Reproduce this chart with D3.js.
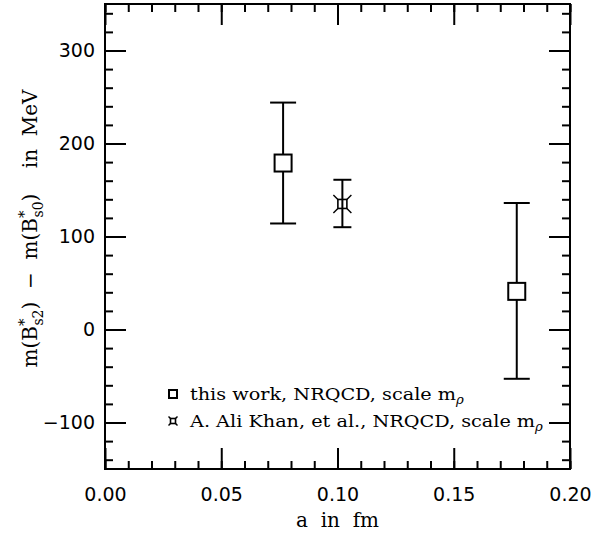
<!DOCTYPE html>
<html>
<head>
<meta charset="utf-8">
<script src="https://cdn.jsdelivr.net/npm/d3@7"></script>
<style>
  html, body { margin: 0; padding: 0; background: #fff; }
  svg { display: block; }
  .tick text { font-family: "DejaVu Sans", sans-serif; font-size: 19px; fill: #000; }
  .lbl { font-family: "DejaVu Serif", serif; fill: #000; }
</style>
</head>
<body>
<svg id="chart" width="610" height="535"></svg>
<script>
// Mass splitting m(B*_s2) - m(B*_s0) versus lattice spacing
const thisWorkA    = [0.0766, 0.1771];
const thisWorkVal  = [179, 41];
const thisWorkHigh = [244, 136];
const thisWorkLow  = [114, -53];

const aliKhanA    = [0.1021];
const aliKhanVal  = [135];
const aliKhanHigh = [161];
const aliKhanLow  = [110];

const xMajorTicks = [0.00, 0.05, 0.10, 0.15, 0.20];
const yMajorTicks = [-100, 0, 100, 200, 300];
const xDomain = [0, 0.2];
const yDomain = [-150, 350];

const svg = d3.select("#chart");
const margin = { left: 105, right: 40, top: 4, bottom: 66 };
const W = 610, H = 535;
const x = d3.scaleLinear().domain(xDomain).range([margin.left, W - margin.right]);
const y = d3.scaleLinear().domain(yDomain).range([H - margin.bottom, margin.top]);

const x0 = x.range()[0], x1 = x.range()[1];
const y0 = y.range()[0], y1 = y.range()[1];

const xMinor = d3.range(0, 0.2001, 0.01).map(v => +v.toFixed(2));
const yMinor = d3.range(-140, 341, 20);
const MAJ = 21, MIN = 8;

function styleAxis(g) {
  g.select(".domain").remove();
  g.selectAll(".tick line").attr("stroke", "#000").attr("stroke-width", 2);
}

// bottom axis (labels + major ticks)
svg.append("g").attr("transform", `translate(0,${y0})`)
  .call(d3.axisBottom(x).tickValues(xMajorTicks).tickSizeInner(-MAJ).tickSizeOuter(0)
        .tickPadding(19).tickFormat(d3.format(".2f")))
  .call(styleAxis);
svg.append("g").attr("transform", `translate(0,${y0})`)
  .call(d3.axisBottom(x).tickValues(xMinor).tickSizeInner(-MIN).tickSizeOuter(0).tickFormat(""))
  .call(styleAxis);
// top axis
svg.append("g").attr("transform", `translate(0,${y1})`)
  .call(d3.axisTop(x).tickValues(xMajorTicks).tickSizeInner(-MAJ).tickSizeOuter(0).tickFormat(""))
  .call(styleAxis);
svg.append("g").attr("transform", `translate(0,${y1})`)
  .call(d3.axisTop(x).tickValues(xMinor).tickSizeInner(-MIN).tickSizeOuter(0).tickFormat(""))
  .call(styleAxis);
// left axis
svg.append("g").attr("transform", `translate(${x0},0)`)
  .call(d3.axisLeft(y).tickValues(yMajorTicks).tickSizeInner(-MAJ).tickSizeOuter(0)
        .tickPadding(10).tickFormat(d => d < 0 ? "\u2212" + Math.abs(d) : d))
  .call(styleAxis);
svg.append("g").attr("transform", `translate(${x0},0)`)
  .call(d3.axisLeft(y).tickValues(yMinor).tickSizeInner(-MIN).tickSizeOuter(0).tickFormat(""))
  .call(styleAxis);
// right axis
svg.append("g").attr("transform", `translate(${x1},0)`)
  .call(d3.axisRight(y).tickValues(yMajorTicks).tickSizeInner(-MAJ).tickSizeOuter(0).tickFormat(""))
  .call(styleAxis);
svg.append("g").attr("transform", `translate(${x1},0)`)
  .call(d3.axisRight(y).tickValues(yMinor).tickSizeInner(-MIN).tickSizeOuter(0).tickFormat(""))
  .call(styleAxis);

// frame
svg.append("rect").attr("x", x0).attr("y", y1).attr("width", x1 - x0).attr("height", y0 - y1)
  .attr("fill", "none").attr("stroke", "#000").attr("stroke-width", 2);

// error bars
function errorBars(as, vals, highs, lows, cap) {
  const g = svg.append("g").attr("stroke", "#000").attr("stroke-width", 2).attr("fill", "none");
  as.forEach((a, i) => {
    const cx = x(a);
    g.append("line").attr("x1", cx).attr("x2", cx).attr("y1", y(highs[i])).attr("y2", y(lows[i]));
    g.append("line").attr("x1", cx - cap).attr("x2", cx + cap).attr("y1", y(highs[i])).attr("y2", y(highs[i]));
    g.append("line").attr("x1", cx - cap).attr("x2", cx + cap).attr("y1", y(lows[i])).attr("y2", y(lows[i]));
  });
  return g;
}

function squareMarker(g, cx, cy, s) {
  g.append("rect").attr("x", cx - s / 2).attr("y", cy - s / 2).attr("width", s).attr("height", s)
    .attr("fill", "#fff").attr("stroke", "#000").attr("stroke-width", 2);
}
function starMarker(g, cx, cy, s, r) {
  const h = s / 2;
  g.append("rect").attr("x", cx - h).attr("y", cy - h).attr("width", s).attr("height", s)
    .attr("fill", "none").attr("stroke", "#000").attr("stroke-width", 1.6);
  [[-1, -1], [1, -1], [1, 1], [-1, 1]].forEach(([dx, dy]) => {
    g.append("line").attr("x1", cx + dx * h).attr("y1", cy + dy * h)
      .attr("x2", cx + dx * r).attr("y2", cy + dy * r)
      .attr("stroke", "#000").attr("stroke-width", 1.4);
  });
}

const gThis = errorBars(thisWorkA, thisWorkVal, thisWorkHigh, thisWorkLow, 13);
thisWorkA.forEach((a, i) => squareMarker(gThis, x(a), y(thisWorkVal[i]), 17));

const gAli = errorBars(aliKhanA, aliKhanVal, aliKhanHigh, aliKhanLow, 9);
aliKhanA.forEach((a, i) => starMarker(gAli, x(a), y(aliKhanVal[i]), 9, 9));

// legend
const legend = svg.append("g");
squareMarker(legend, 173, 394, 8);
starMarker(legend, 173, 421, 5, 4.5);
function legendText(yPos, str) {
  const t = legend.append("text").attr("class", "lbl")
    .attr("transform", `translate(190,${yPos + 6}) scale(1.1,1)`)
    .attr("font-size", 17.5);
  t.append("tspan").text(str);
  t.append("tspan").text("\u03c1").attr("font-size", 12).attr("font-style", "italic").attr("dy", 4);
}
legendText(394, "this work, NRQCD, scale m");
legendText(421, "A. Ali Khan, et al., NRQCD, scale m");

// x-axis title
svg.append("text").attr("class", "lbl").attr("x", (x0 + x1) / 2).attr("y", 527)
  .attr("text-anchor", "middle").attr("font-size", 20).attr("xml:space", "preserve")
  .text("a  in  fm");

// y-axis title
const yt = svg.append("text").attr("class", "lbl").attr("font-size", 20)
  .attr("text-anchor", "middle").attr("xml:space", "preserve")
  .attr("transform", `translate(37,${(y0 + y1) / 2 - 8}) rotate(-90)`);
function mesonPart(t, sub) {
  t.append("tspan").text("m(B");
  t.append("tspan").text("*").attr("font-size", 15).attr("dy", -8);
  t.append("tspan").text(sub).attr("font-size", 14).attr("dy", 14).attr("dx", -7);
  t.append("tspan").text(")").attr("dy", -6);
}
mesonPart(yt, "s2");
yt.append("tspan").text("  \u2212  ");
mesonPart(yt, "s0");
yt.append("tspan").text("    in  MeV");
</script>
</body>
</html>
